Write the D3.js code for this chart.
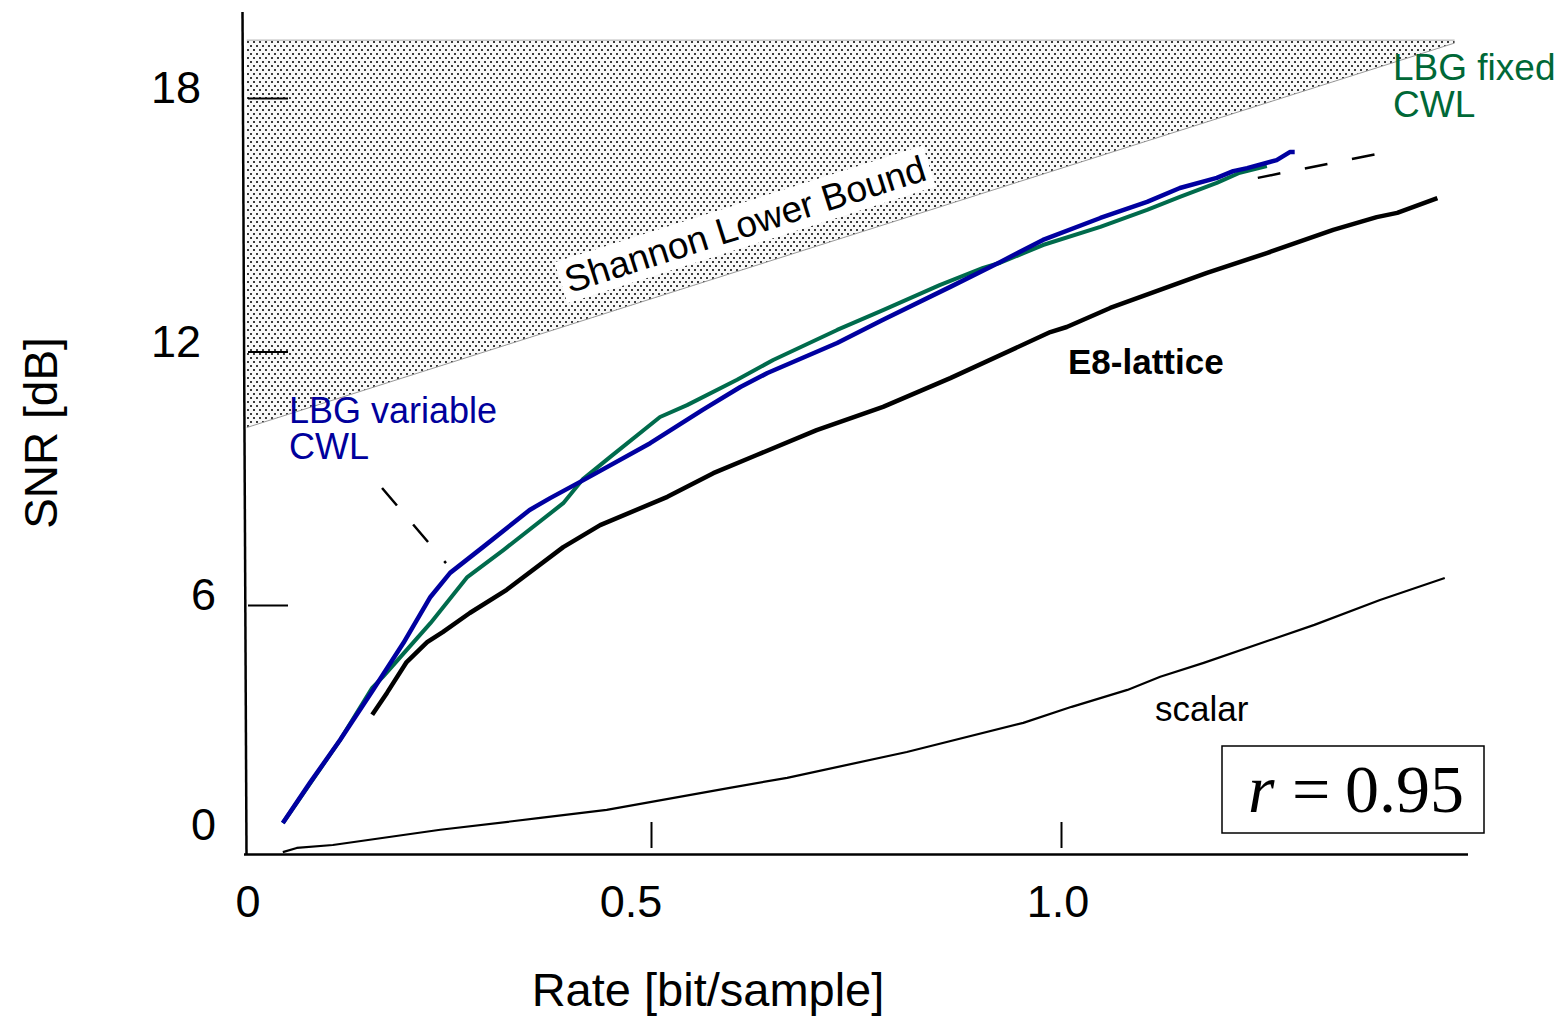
<!DOCTYPE html>
<html>
<head>
<meta charset="utf-8">
<script src="https://cdn.jsdelivr.net/npm/d3@7"></script>
<style>
  body { margin: 0; background: #fff; }
  svg { display: block; }
  text { font-family: "Liberation Sans", Arial, sans-serif; }
</style>
</head>
<body>
<svg id="chart" width="1561" height="1018"></svg>
<script>
// Rate [bit/sample] vs SNR [dB] for different quantizers, r = 0.95

const lbgVariable = [
  [0.051, 0.84], [0.084, 1.79], [0.121, 2.81], [0.161, 3.99], [0.198, 5.10],
  [0.231, 6.19], [0.255, 6.76], [0.295, 7.37], [0.352, 8.25], [0.377, 8.53],
  [0.417, 8.95], [0.499, 9.83], [0.563, 10.62], [0.609, 11.16], [0.642, 11.49],
  [0.727, 12.20], [0.783, 12.75], [0.865, 13.53], [0.926, 14.12], [0.978, 14.64],
  [1.048, 15.16], [1.105, 15.54], [1.145, 15.87], [1.190, 16.11], [1.210, 16.27],
  [1.227, 16.34], [1.263, 16.53], [1.279, 16.72], [1.285, 16.72]
];

const lbgFixed = [
  [0.051, 0.84], [0.121, 2.81], [0.160, 4.04], [0.173, 4.30], [0.231, 5.57],
  [0.276, 6.66], [0.320, 7.30], [0.393, 8.41], [0.417, 8.98], [0.450, 9.50],
  [0.511, 10.45], [0.544, 10.73], [0.605, 11.33], [0.649, 11.80],
  [0.727, 12.51], [0.783, 12.98], [0.852, 13.57], [0.905, 13.98], [0.926, 14.10],
  [0.978, 14.52], [1.048, 14.95], [1.105, 15.35], [1.145, 15.66], [1.190, 15.99],
  [1.218, 16.23], [1.251, 16.39]
];

const e8Lattice = [
  [0.160, 3.40], [0.178, 3.92], [0.202, 4.65], [0.227, 5.12], [0.246, 5.36],
  [0.279, 5.81], [0.324, 6.36], [0.393, 7.37], [0.438, 7.89], [0.520, 8.56],
  [0.576, 9.12], [0.629, 9.55], [0.702, 10.14], [0.783, 10.69], [0.865, 11.37],
  [0.987, 12.46], [1.007, 12.58], [1.060, 13.03], [1.178, 13.86], [1.251, 14.33],
  [1.332, 14.88], [1.385, 15.18], [1.410, 15.28], [1.459, 15.63]
];

const scalar = [
  [0.051, 0.15], [0.068, 0.25], [0.112, 0.32], [0.243, 0.68], [0.365, 0.96],
  [0.446, 1.15], [0.596, 1.67], [0.666, 1.91], [0.812, 2.52], [0.954, 3.21],
  [1.013, 3.59], [1.081, 3.99], [1.121, 4.30], [1.174, 4.63], [1.309, 5.53],
  [1.389, 6.12], [1.468, 6.64]
];

// Shannon lower bound (edge of the unreachable region)
const shannonBound = [[0.007, 10.2], [1.48, 19.3]];
const shadeTop = 19.37;

// Leader lines from the LBG labels to their curves
const pointerVariable = [[0.172, 8.77], [0.250, 6.99]];
const pointerFixed = [[1.240, 16.11], [1.387, 16.68]];

const xTicks = [0.5, 1.0];
const xTickLabels = [[0, "0"], [0.5, "0.5"], [1.0, "1.0"]];
const yTicks = [6, 12, 18];
const yTickLabels = [[0, "0"], [6, "6"], [12, "12"], [18, "18"]];

const svg = d3.select("#chart");
svg.append("rect").attr("width", 1561).attr("height", 1018).attr("fill", "#fff");

const x = d3.scaleLinear().domain([0, 1.5]).range([241, 1471]);
const y = d3.scaleLinear().domain([0, 18]).range([858.5, 98]);

// Stipple pattern for the region above the bound
const defs = svg.append("defs");
const pat = defs.append("pattern")
  .attr("id", "stipple").attr("patternUnits", "userSpaceOnUse")
  .attr("width", 6).attr("height", 8);
pat.append("rect").attr("width", 6).attr("height", 8).attr("fill", "#f8f8f8");
pat.append("rect").attr("x", 1).attr("y", 1).attr("width", 2).attr("height", 2).attr("fill", "#3c3c3c");
pat.append("rect").attr("x", 4).attr("y", 5).attr("width", 2).attr("height", 2).attr("fill", "#3c3c3c");

const shade = d3.area()
  .x(d => x(d[0]))
  .y0(y(shadeTop))
  .y1(d => y(d[1]));
svg.append("path").datum(shannonBound)
  .attr("d", shade).attr("fill", "url(#stipple)");
svg.append("line")
  .attr("x1", x(shannonBound[0][0])).attr("x2", x(shannonBound[1][0]))
  .attr("y1", y(shadeTop)).attr("y2", y(shadeTop))
  .attr("stroke", "#aaa").attr("stroke-width", 1);
const line = d3.line().x(d => x(d[0])).y(d => y(d[1]));
svg.append("path").datum(shannonBound)
  .attr("d", line).attr("fill", "none").attr("stroke", "#999").attr("stroke-width", 1);

// Shannon label on a white plate, aligned with the bound
const shannonG = svg.append("g").attr("transform", "translate(745,224) rotate(-17.6)");
const shannonText = shannonG.append("text")
  .attr("text-anchor", "middle").attr("dy", "0.35em")
  .attr("font-size", 37).attr("fill", "#000")
  .text("Shannon Lower Bound");
const bb = shannonText.node().getBBox();
shannonG.insert("rect", "text")
  .attr("x", bb.x - 5).attr("y", bb.y - 1)
  .attr("width", bb.width + 10).attr("height", bb.height + 2)
  .attr("fill", "#fff");

// Curves
svg.append("path").datum(scalar).attr("d", line)
  .attr("fill", "none").attr("stroke", "#000").attr("stroke-width", 2.2)
  .attr("stroke-linejoin", "round");
svg.append("path").datum(e8Lattice).attr("d", line)
  .attr("fill", "none").attr("stroke", "#000").attr("stroke-width", 4.5)
  .attr("stroke-linejoin", "round");
svg.append("path").datum(lbgFixed).attr("d", line)
  .attr("fill", "none").attr("stroke", "#006b4c").attr("stroke-width", 4)
  .attr("stroke-linejoin", "round");
svg.append("path").datum(lbgVariable).attr("d", line)
  .attr("fill", "none").attr("stroke", "#0000a0").attr("stroke-width", 4.5)
  .attr("stroke-linejoin", "round");

[pointerVariable, pointerFixed].forEach(p => {
  svg.append("path").datum(p).attr("d", line)
    .attr("fill", "none").attr("stroke", "#000").attr("stroke-width", 2.5)
    .attr("stroke-dasharray", "23,25");
});

// Axes
svg.append("line").attr("x1", 242.5).attr("y1", 12).attr("x2", 246.5).attr("y2", 855)
  .attr("stroke", "#000").attr("stroke-width", 2.5);
svg.append("line").attr("x1", 244).attr("y1", 854.5).attr("x2", 1468).attr("y2", 854.5)
  .attr("stroke", "#000").attr("stroke-width", 2.5);

const yAxis = svg.append("g").attr("transform", "translate(248,0)")
  .call(d3.axisRight(y).tickValues(yTicks).tickSize(40).tickFormat(""));
yAxis.select(".domain").remove();
yAxis.selectAll("line").attr("stroke", "#000").attr("stroke-width", 2);

const xAxis = svg.append("g").attr("transform", "translate(0,848)")
  .call(d3.axisTop(x).tickValues(xTicks).tickSize(26).tickFormat(""));
xAxis.select(".domain").remove();
xAxis.selectAll("line").attr("stroke", "#000").attr("stroke-width", 2);

// Tick labels
const xNudge = { "0": 7, "0.5": -20, "1.0": -3 };
svg.append("g").selectAll("text").data(xTickLabels).join("text")
  .attr("x", d => x(d[0]) + xNudge[d[1]]).attr("y", 917)
  .attr("text-anchor", "middle").attr("font-size", 45)
  .text(d => d[1]);

svg.append("g").selectAll("text").data(yTickLabels).join("text")
  .attr("x", d => d[0] >= 12 ? 201 : 216)
  .attr("y", d => d[0] === 0 ? y(d[0]) - 19 : y(d[0]) + 5)
  .attr("text-anchor", "end").attr("font-size", 45)
  .text(d => d[1]);

// Axis titles
svg.append("text").attr("transform", "translate(57,433) rotate(-90)")
  .attr("text-anchor", "middle").attr("font-size", 46).text("SNR [dB]");
svg.append("text").attr("x", 708).attr("y", 1006)
  .attr("text-anchor", "middle").attr("font-size", 47).text("Rate [bit/sample]");

// Series labels (two lines each)
svg.append("text").attr("x", 1393).attr("y", 80)
  .attr("font-size", 37).attr("fill", "#006837").text("LBG fixed");
svg.append("text").attr("x", 1393).attr("y", 117)
  .attr("font-size", 37).attr("fill", "#006837").text("CWL");

svg.append("text").attr("x", 289).attr("y", 423)
  .attr("font-size", 36).attr("fill", "#00009c").text("LBG variable");
svg.append("text").attr("x", 289).attr("y", 459)
  .attr("font-size", 36).attr("fill", "#00009c").text("CWL");

svg.append("text").attr("x", 1068).attr("y", 374)
  .attr("font-size", 35).attr("font-weight", "bold").text("E8-lattice");
svg.append("text").attr("x", 1155).attr("y", 721)
  .attr("font-size", 35).text("scalar");

// Correlation coefficient box
svg.append("rect").attr("x", 1222).attr("y", 746).attr("width", 262).attr("height", 87)
  .attr("fill", "#fff").attr("stroke", "#000").attr("stroke-width", 1.5);
const rText = svg.append("text").attr("y", 812)
  .style("font-family", '"Liberation Serif", "Times New Roman", serif').attr("font-size", 68);
rText.append("tspan").attr("x", 1248).attr("font-style", "italic").text("r");
rText.append("tspan").attr("x", 1292).text("=");
rText.append("tspan").attr("x", 1345).text("0.95");
</script>
</body>
</html>
